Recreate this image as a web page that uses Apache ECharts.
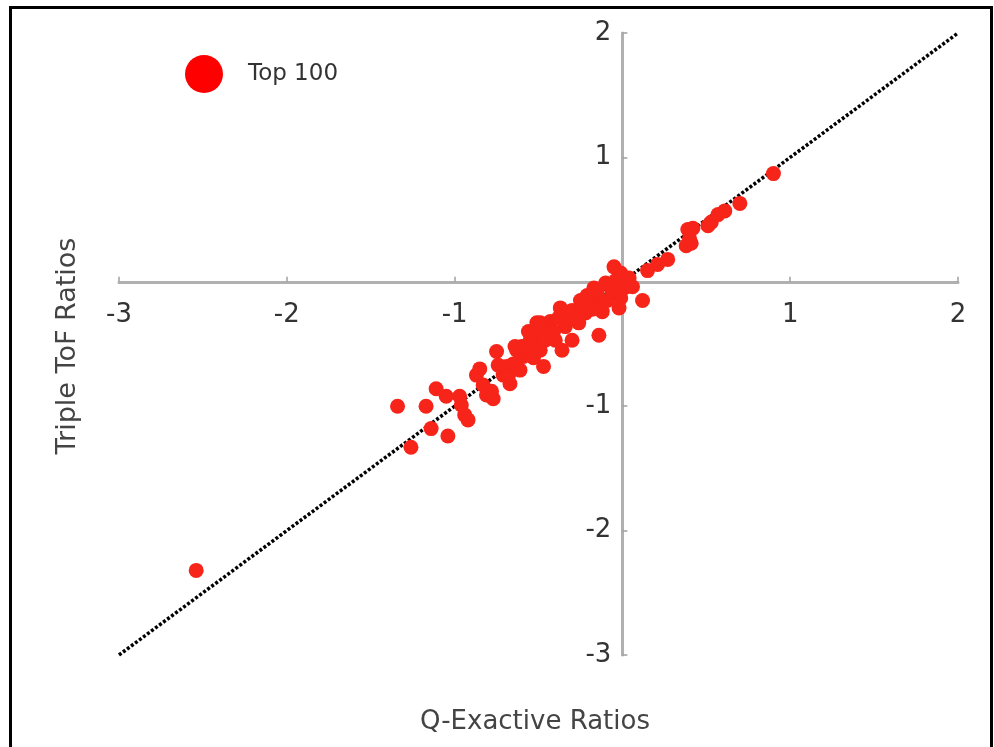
<!DOCTYPE html>
<html>
<head>
<meta charset="utf-8">
<script src="https://cdn.jsdelivr.net/npm/echarts@6/dist/echarts.min.js"></script>
<style>
html,body{margin:0;padding:0;background:#fff;}
#chart{width:994px;height:747px;}
</style>
</head>
<body>
<div id="chart"></div>
<script>
// Data: [Q-Exactive ratio, Triple ToF ratio]
var seriesName = 'Top 100';
var xTicks = [-3, -2, -1, 0, 1, 2];
var yTicks = [-3, -2, -1, 0, 1, 2];
var diagonal = [[-3, -3], [2, 2]];
var upperPoints = [
  [0.90, 0.87], [0.70, 0.63], [0.61, 0.57], [0.57, 0.54], [0.53, 0.48],
  [0.51, 0.45], [0.42, 0.43], [0.39, 0.42], [0.40, 0.35], [0.38, 0.29],
  [0.41, 0.31], [0.27, 0.18], [0.21, 0.14], [0.15, 0.09], [0.12, -0.15]
];
var centerPoints = [
  [-0.05, 0.12], [-0.01, 0.07], [0.04, 0.03], [0.06, -0.04], [0.01, -0.05],
  [-0.01, -0.13], [-0.02, -0.21], [-0.06, -0.08], [-0.13, -0.15], [-0.14, -0.43],
  [-0.17, -0.05], [-0.19, -0.17], [-0.22, -0.25], [-0.25, -0.15], [-0.26, -0.33],
  [-0.30, -0.23], [-0.30, -0.47], [-0.34, -0.36], [-0.37, -0.21], [-0.38, -0.29],
  [-0.36, -0.55], [-0.41, -0.40], [-0.44, -0.44], [-0.49, -0.33], [-0.51, -0.44],
  [-0.49, -0.55], [-0.47, -0.68], [-0.56, -0.40], [-0.57, -0.51], [-0.59, -0.60],
  [-0.63, -0.55], [-0.65, -0.66], [-0.53, -0.61], [-0.69, -0.68], [-0.61, -0.71],
  [-0.71, -0.75], [-0.10, -0.01], [-0.15, -0.07], [-0.09, -0.15], [-0.12, -0.24],
  [-0.21, -0.11], [-0.28, -0.29], [-0.43, -0.32], [-0.46, -0.47], [-0.40, -0.47],
  [-0.04, 0.01], [0.02, 0.00], [-0.33, -0.28], [-0.45, -0.37], [-0.24, -0.20],
  [-0.18, -0.22], [-0.08, -0.03], [-0.55, -0.47], [-0.60, -0.52]
];
var lowerPoints = [
  [-0.75, -0.56], [-0.85, -0.70], [-0.87, -0.75], [-0.83, -0.83], [-0.81, -0.91],
  [-0.77, -0.94], [-0.78, -0.88], [-0.68, -0.76], [-0.67, -0.82], [-0.64, -0.52],
  [-0.51, -0.33], [-0.47, -0.37], [-0.54, -0.53], [-0.74, -0.67],
  [-0.97, -0.92], [-1.05, -0.92], [-1.11, -0.86], [-0.96, -0.99], [-0.94, -1.07],
  [-0.92, -1.11], [-1.14, -1.18], [-1.04, -1.24], [-1.26, -1.33], [-1.34, -1.00],
  [-1.17, -1.00], [-2.54, -2.32]
];
var xTitle = 'Q-Exactive Ratios';
var yTitle = 'Triple ToF Ratios';

var allPoints = upperPoints.concat(centerPoints, lowerPoints);
var font = 'DejaVu Sans';
var chart = echarts.init(document.getElementById('chart'), null, {renderer: 'canvas'});

var gridLeft = 119, gridRight = 36, gridTop = 33, gridBottom = 92;
var W = 994, H = 747;
var plotW = W - gridLeft - gridRight, plotH = H - gridTop - gridBottom;
// shift axes so they cross at the data origin
var xAxisOffset = -(plotH * (0 - (-3)) / (2 - (-3)));
var yAxisOffset = -(plotW * (0 - (-3)) / (2 - (-3)));

var axisCommon = {
  type: 'value', min: -3, max: 2, interval: 1,
  splitLine: {show: false},
  axisLine: {onZero: false, lineStyle: {color: '#b0b0b0', width: 3}},
  axisTick: {show: true, inside: true, length: 5, lineStyle: {color: '#a0a0a0', width: 1.5}},
  axisLabel: {color: '#333', fontSize: 26, fontFamily: font}
};
chart.setOption({
  animation: false,
  backgroundColor: '#fff',
  grid: {left: gridLeft, right: gridRight, top: gridTop, bottom: gridBottom},
  xAxis: Object.assign({}, axisCommon, {
    position: 'bottom', offset: xAxisOffset,
    axisLabel: Object.assign({}, axisCommon.axisLabel, {margin: 20,
      formatter: function (v) { return xTicks.indexOf(v) >= 0 && v !== 0 ? String(v) : ''; }})
  }),
  yAxis: Object.assign({}, axisCommon, {
    position: 'left', offset: yAxisOffset,
    axisLabel: Object.assign({}, axisCommon.axisLabel, {margin: 11,
      formatter: function (v) { return yTicks.indexOf(v) >= 0 && v !== 0 ? String(v) : ''; }})
  }),
  legend: {
    left: 180, top: 50, itemWidth: 38, itemHeight: 38, itemGap: 10,
    icon: 'circle',
    textStyle: {color: '#333', fontSize: 23, fontFamily: font, padding: [0, 0, 0, 20]},
    data: [{name: seriesName, itemStyle: {color: '#ff0000'}}]
  },
  graphic: [
    {type: 'rect', left: 8, top: 5, shape: {width: 981, height: 800},
     style: {fill: 'none', stroke: '#000', lineWidth: 3}, silent: true},
    {type: 'text', x: 535, y: 722,
     style: {text: xTitle, fill: '#444', fontSize: 26, fontFamily: font, align: 'center', verticalAlign: 'middle'}},
    {type: 'text', x: 68, y: 346, rotation: Math.PI / 2,
     style: {text: yTitle, fill: '#444', fontSize: 27, fontFamily: font, align: 'center', verticalAlign: 'middle'}}
  ],
  series: [
    {
      type: 'line', data: diagonal, symbol: 'none', silent: true,
      lineStyle: {color: '#000', width: 3.5, type: [3, 2]}, z: 1
    },
    {
      name: seriesName, type: 'scatter', data: allPoints, symbol: 'circle', symbolSize: 15,
      itemStyle: {color: '#f7241a', opacity: 1}, z: 3
    }
  ]
});
</script>
</body>
</html>
